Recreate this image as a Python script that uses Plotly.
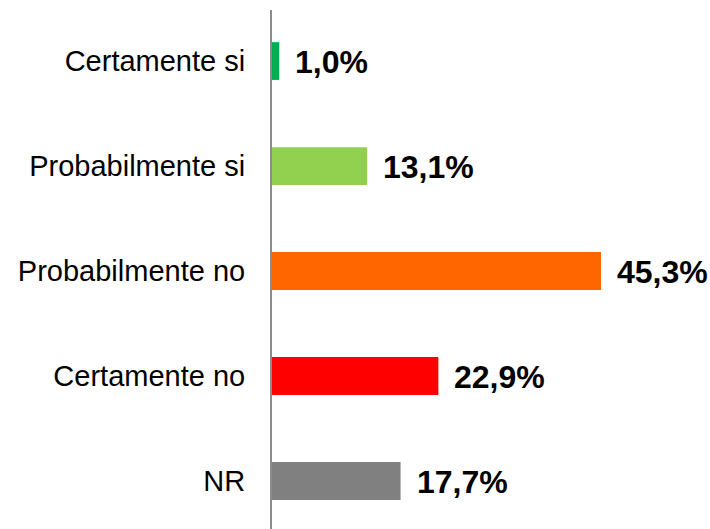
import plotly.graph_objects as go

categories = ["Certamente si", "Probabilmente si", "Probabilmente no", "Certamente no", "NR"]
values = [1.0, 13.1, 45.3, 22.9, 17.7]
colors = ["#00B050", "#92D050", "#FF6600", "#FF0000", "#808080"]
labels = [f"{v:.1f}%".replace(".", ",") for v in values]

fig = go.Figure()
fig.add_trace(go.Bar(
    x=values, y=categories, orientation="h",
    marker=dict(color=colors, line=dict(width=0)),
    width=0.36, hoverinfo="skip",
))

for v, c, t in zip(values, categories, labels):
    fig.add_annotation(
        x=v, y=c, text=f"<b>{t}</b>", showarrow=False,
        xanchor="left", yanchor="middle", xshift=14, yshift=-1,
        font=dict(size=32, color="black", family="Liberation Sans, Arial, sans-serif"),
    )

fig.update_layout(
    width=710, height=529,
    margin=dict(l=272, r=0, t=10, b=0),
    paper_bgcolor="white", plot_bgcolor="white",
    showlegend=False,
    font=dict(family="Liberation Sans, Arial, sans-serif", color="black"),
)
fig.update_xaxes(range=[0, 60.3], visible=False, showgrid=False, zeroline=False)
fig.update_yaxes(
    type="category", categoryorder="array", categoryarray=categories,
    range=[4.457, -0.486],
    showline=True, linecolor="#8C8C8C", linewidth=2,
    showgrid=False, zeroline=False, ticks="",
    ticklabelstandoff=19,
    tickfont=dict(size=29, color="black"),
)

fig.write_html(
    "out.html",
    config={"displayModeBar": False},
    post_script="document.body.style.margin='0';document.body.style.overflow='hidden';",
)
